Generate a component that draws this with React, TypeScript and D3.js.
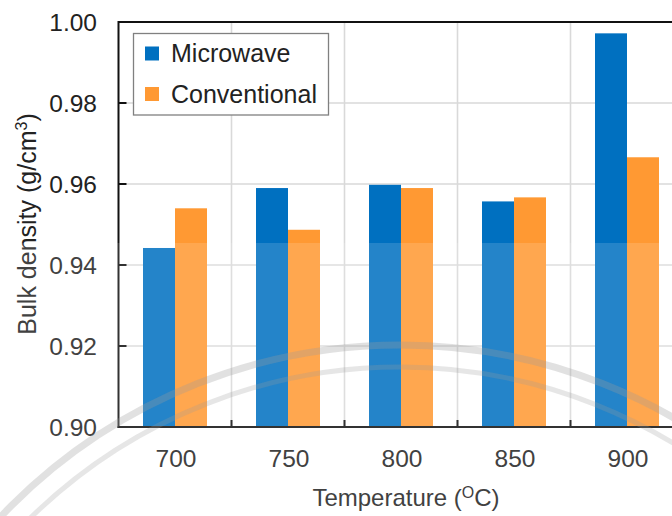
import * as d3 from "d3";
import React from "react";

const temperatures = ["700", "750", "800", "850", "900"];
const seriesNames = ["Microwave", "Conventional"];
const microwave = [0.9442, 0.959, 0.9598, 0.9557, 0.9972];
const conventional = [0.954, 0.9487, 0.959, 0.9567, 0.9666];
const yTicks = [0.9, 0.92, 0.94, 0.96, 0.98, 1.0];
const colors = ["#0070C0", "#FF9933"];

const W = 672;
const H = 516;
const pad = { left: 118.5, top: 22, bottomY: 427 };
const bandW = 113;
const font = "'Liberation Sans', Arial, sans-serif";

export default function App() {
  const x = d3
    .scaleBand()
    .domain(temperatures)
    .range([pad.left, pad.left + bandW * temperatures.length])
    .padding(0);

  const inner = d3
    .scaleBand()
    .domain(seriesNames)
    .range([(bandW - 64) / 2, (bandW + 64) / 2])
    .padding(0);

  const y = d3.scaleLinear().domain([0.9, 1.0]).range([pad.bottomY, pad.top]);

  const rows = temperatures.map((t, i) => ({
    t,
    values: [microwave[i], conventional[i]],
  }));

  const right = pad.left + bandW * temperatures.length;

  return (
    <div style={{ position: "absolute", left: 0, top: 0 }}>
      <svg width={W} height={H} style={{ display: "block", background: "#fff" }} fontFamily={font}>
        {/* gridlines */}
        {yTicks.slice(1, -1).map((t) => (
          <line key={t} x1={pad.left} x2={right} y1={y(t)} y2={y(t)} stroke="#D9D9D9" strokeWidth={1.6} />
        ))}
        {temperatures.slice(1).map((t) => (
          <line key={t} x1={x(t)} x2={x(t)} y1={pad.top} y2={pad.bottomY} stroke="#D9D9D9" strokeWidth={1.6} />
        ))}

        {/* bars */}
        {rows.map((r) => (
          <g key={r.t} transform={`translate(${x(r.t)},0)`}>
            {r.values.map((v, j) => (
              <rect
                key={j}
                x={inner(seriesNames[j])}
                width={inner.bandwidth()}
                y={y(v)}
                height={pad.bottomY - y(v)}
                fill={colors[j]}
              />
            ))}
          </g>
        ))}

        {/* frame */}
        <line x1={pad.left} x2={right} y1={pad.top} y2={pad.top} stroke="#111" strokeWidth={2} />
        <line x1={pad.left} x2={pad.left} y1={pad.top - 1} y2={pad.bottomY + 1} stroke="#111" strokeWidth={2} />
        <line x1={pad.left - 1} x2={right} y1={pad.bottomY} y2={pad.bottomY} stroke="#111" strokeWidth={2} />

        {yTicks.slice(1, -1).map((t) => (
          <line key={t} x1={pad.left} x2={pad.left + 8} y1={y(t)} y2={y(t)} stroke="#111" strokeWidth={2} />
        ))}
        {temperatures.slice(1).map((t) => (
          <line key={t} x1={x(t)} x2={x(t)} y1={pad.bottomY - 7} y2={pad.bottomY} stroke="#111" strokeWidth={2} />
        ))}

        {/* tick labels */}
        {yTicks.map((t) => (
          <text key={t} x={97} y={y(t) + 9} textAnchor="end" fontSize={24.5} fill="#222">
            {t.toFixed(2)}
          </text>
        ))}
        {temperatures.map((t) => (
          <text
            key={t}
            x={(x(t) as number) + bandW / 2 + 1}
            y={467}
            textAnchor="middle"
            fontSize={24.5}
            fill="#222"
          >
            {t}
          </text>
        ))}

        {/* axis titles */}
        <text x={406} y={506} textAnchor="middle" fontSize={24} fill="#222">
          Temperature (<tspan dy={-8} fontSize={16}>O</tspan>
          <tspan dy={8}>C)</tspan>
        </text>
        <text transform="translate(36,224) rotate(-90)" textAnchor="middle" fontSize={25} fill="#222">
          Bulk density (g/cm<tspan dy={-9} fontSize={16}>3</tspan>
          <tspan dy={9}>)</tspan>
        </text>

        {/* legend */}
        <g>
          <rect x={133.5} y={33.5} width={195} height={81.5} fill="#fff" stroke="#808080" strokeWidth={1.3} />
          {seriesNames.map((s, i) => (
            <g key={s} transform={`translate(0,${i * 40.5})`}>
              <rect x={145} y={46.5} width={14} height={14} fill={colors[i]} />
              <text x={171} y={62} fontSize={25} fill="#222">
                {s}
              </text>
            </g>
          ))}
        </g>

        {/* faint watermark of the source page */}
        <rect x={0} y={243} width={W} height={H - 243} fill="#fff" opacity={0.14} />
        <circle cx={400} cy={895} r={550} fill="none" stroke="#9a9a9a" strokeWidth={7} opacity={0.3} />
        <circle cx={400} cy={895} r={528} fill="none" stroke="#9a9a9a" strokeWidth={5} opacity={0.25} />
      </svg>
    </div>
  );
}
